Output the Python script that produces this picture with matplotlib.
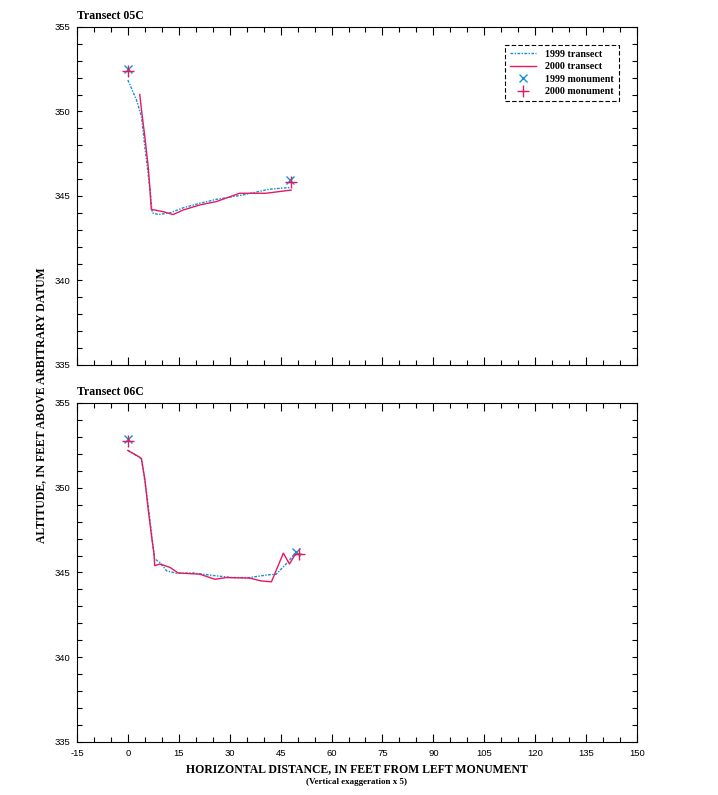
import matplotlib

matplotlib.use("Agg")
import matplotlib.pyplot as plt  # noqa: E402
from matplotlib.lines import Line2D  # noqa: E402
from matplotlib.ticker import MultipleLocator  # noqa: E402

plt.rcParams["axes.unicode_minus"] = False

BLUE = "#1591D6"
RED = "#E8185F"
SERIF = ["Liberation Serif", "DejaVu Serif"]
NARROW = ["Liberation Sans Narrow", "Liberation Sans", "DejaVu Sans"]

# Transect 05C
t05_x_1999 = [0, 2.5, 4.0, 5.0, 6.5, 7.2, 8.9, 12.4, 16.3, 21.2, 26.1, 33.9, 41.7, 47.6]
t05_y_1999 = [351.86, 350.7, 349.7, 347.9, 345.4, 344.0, 343.9, 344.0, 344.3, 344.57,
              344.8, 345.06, 345.4, 345.5]
t05_x_2000 = [3.5, 4.0, 5.0, 6.0, 6.5, 6.9, 7.9, 10.4, 13.3, 16.3, 21.2, 26.1, 32.9, 40.7, 48.1]
t05_y_2000 = [351.0, 350.1, 348.5, 346.7, 345.4, 344.2, 344.17, 344.07, 343.9, 344.17,
              344.47, 344.67, 345.16, 345.16, 345.35]
t05_mon_x_1999 = [0, 47.8]
t05_mon_y_1999 = [352.5, 345.95]
t05_mon_x_2000 = [0, 48.1]
t05_mon_y_2000 = [352.4, 345.8]

# Transect 06C
t06_x_1999 = [0, 2.5, 4.0, 4.5, 5.5, 6.5, 7.4, 7.9, 9.4, 11.4, 14.3, 19.2, 26.1, 30.9,
              35.9, 40.8, 43.7, 46.6, 49.6]
t06_y_1999 = [352.2, 351.9, 351.7, 351.05, 349.7, 348.1, 346.55, 345.8, 345.6, 345.1,
              344.95, 344.97, 344.8, 344.7, 344.7, 344.85, 344.9, 345.5, 346.2]
t06_x_2000 = [0, 3.5, 4.0, 5.0, 6.0, 7.0, 7.7, 7.9, 9.4, 12.4, 14.8, 21.2, 25.6, 29.0,
              35.9, 39.3, 42.3, 45.8, 47.6, 49.1, 50.0, 51.0]
t06_y_2000 = [352.2, 351.8, 351.7, 350.5, 348.7, 347.1, 346.1, 345.4, 345.5, 345.3,
              344.97, 344.9, 344.6, 344.7, 344.67, 344.5, 344.45, 346.14, 345.5, 346.0,
              346.1, 346.08]
t06_mon_x_1999 = [0, 49.6]
t06_mon_y_1999 = [352.85, 346.2]
t06_mon_x_2000 = [0, 50.3]
t06_mon_y_2000 = [352.75, 346.1]

LS_1999 = (0, (2, 1, 1, 1))


def draw_panel(ax, title, x99, y99, x00, y00, mx99, my99, mx00, my00, xlabels):
    ax.plot(x99, y99, color=BLUE, lw=1.0, ls=LS_1999)
    ax.plot(x00, y00, color=RED, lw=1.0)
    ax.plot(mx99, my99, ls="none", marker="x", ms=6, mew=1.0, color=BLUE)
    ax.plot(mx00, my00, ls="none", marker="+", ms=8, mew=1.0, color=RED)
    ax.set_xlim(-15, 150)
    ax.set_ylim(335, 355)
    ax.xaxis.set_major_locator(MultipleLocator(15))
    ax.xaxis.set_minor_locator(MultipleLocator(5))
    ax.yaxis.set_major_locator(MultipleLocator(5))
    ax.yaxis.set_minor_locator(MultipleLocator(1))
    ax.tick_params(which="both", direction="in", top=True, right=True, width=0.8)
    ax.tick_params(axis="x", which="major", length=6, pad=5)
    ax.tick_params(axis="x", which="minor", length=3.5)
    ax.tick_params(axis="y", which="both", length=3.5, pad=5)
    if not xlabels:
        ax.tick_params(labelbottom=False)
    for lab in ax.get_xticklabels() + ax.get_yticklabels():
        lab.set_family(NARROW)
        lab.set_fontsize(6.8)
    for sp in ax.spines.values():
        sp.set_linewidth(0.8)
    ax.set_title(title, loc="left", family=SERIF, fontweight="bold", fontsize=8.5, pad=6)


fig = plt.figure(figsize=(7.18, 7.95), dpi=100)
ax1 = fig.add_axes([0.1072, 0.5409, 0.78, 0.4252])
ax2 = fig.add_axes([0.1072, 0.0667, 0.78, 0.4264])

draw_panel(ax1, "Transect 05C", t05_x_1999, t05_y_1999, t05_x_2000, t05_y_2000,
           t05_mon_x_1999, t05_mon_y_1999, t05_mon_x_2000, t05_mon_y_2000, False)
draw_panel(ax2, "Transect 06C", t06_x_1999, t06_y_1999, t06_x_2000, t06_y_2000,
           t06_mon_x_1999, t06_mon_y_1999, t06_mon_x_2000, t06_mon_y_2000, True)

handles = [
    Line2D([], [], color=BLUE, lw=1.0, ls=LS_1999),
    Line2D([], [], color=RED, lw=1.0),
    Line2D([], [], color=BLUE, ls="none", marker="x", ms=6, mew=1.0),
    Line2D([], [], color=RED, ls="none", marker="+", ms=8, mew=1.0),
]
labels = ["1999 transect", "2000 transect", "1999 monument", "2000 monument"]
leg = ax1.legend(handles, labels, loc="upper right", bbox_to_anchor=(0.968, 0.947),
                 borderaxespad=0,
                 prop={"family": SERIF, "weight": "bold", "size": 7.2},
                 fancybox=False, framealpha=1, edgecolor="black",
                 handlelength=2.6, handletextpad=0.9, labelspacing=0.35,
                 borderpad=0.5)
leg.get_frame().set_linestyle((0, (4, 2)))
leg.get_frame().set_linewidth(0.8)

fig.text(0.058, 0.49, "ALTITUDE, IN FEET ABOVE ARBITRARY DATUM", rotation=90,
         ha="center", va="center", family=SERIF, fontweight="bold", fontsize=8.5)
fig.text(0.497, 0.032, "HORIZONTAL DISTANCE, IN FEET FROM LEFT MONUMENT",
         ha="center", va="center", family=SERIF, fontweight="bold", fontsize=8.5)
fig.text(0.497, 0.016, "(Vertical exaggeration x 5)",
         ha="center", va="center", family=SERIF, fontweight="bold", fontsize=6.5)

fig.savefig("out.png", dpi=100)
